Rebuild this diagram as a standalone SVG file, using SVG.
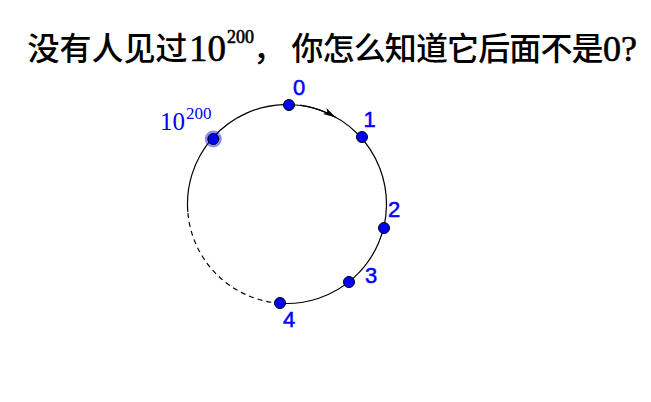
<svg xmlns="http://www.w3.org/2000/svg" width="651" height="402" viewBox="0 0 651 402">
<style>
.cjk{font-family:"Noto Sans CJK SC","Noto Sans CJK JP",sans-serif;font-size:32px;font-weight:500;fill:#000}
.ser{font-family:"Liberation Serif","Times New Roman",serif;fill:#000;stroke:#000;stroke-width:0.6}
.lbl{font-family:"Liberation Sans",Arial,sans-serif;font-size:22px;fill:#0000ff;stroke:#0000ff;stroke-width:0.5}
.sl{font-family:"Liberation Serif","Times New Roman",serif;fill:#0000ff}
.pt{fill:#0000ff;stroke:#000;stroke-width:1}
.arc{fill:none;stroke:#000;stroke-width:1.2}
</style>
<defs>
<marker id="ah" viewBox="0 0 14 8" refX="13" refY="4" markerWidth="14" markerHeight="8" markerUnits="userSpaceOnUse" orient="auto">
<path d="M0,0.5 L13,4 L0,7.5 L3,4 Z" fill="#000"/>
</marker>
</defs>
<rect width="651" height="402" fill="#fff"/>
<g id="title">
<text class="cjk" x="27.5" y="60">没有人见过</text>
<text class="ser" x="189" y="61" font-size="37">10</text>
<text class="ser" x="227" y="43" font-size="18">200</text>
<text class="cjk" x="253" y="60">，</text>
<text class="cjk" x="291.5" y="60" textLength="312" lengthAdjust="spacing">你怎么知道它后面不是</text>
<text class="ser" x="603" y="61" font-size="36">0?</text>
</g>
<g id="connectors">
<path class="arc" d="M187.8 212 A99.5 99.5 0 1 1 280.06 303.26"/>
<path class="arc" d="M280.06 303.26 A99.5 99.5 0 0 1 187.8 212" stroke-dasharray="5 4"/>
<path class="arc" d="M300 105.2 A99.5 99.5 0 0 1 336 117.6" marker-end="url(#ah)"/>
</g>
<g id="node-10e200">
<circle cx="213.3" cy="139" r="8.5" fill="#0000ff" fill-opacity="0.45"/>
<circle class="pt" cx="213.3" cy="139" r="5.5"/>
<text class="sl" x="160" y="130" font-size="25">10</text>
<text class="sl" x="186" y="119" font-size="17">200</text>
</g>
<g id="node-0">
<circle class="pt" cx="289" cy="105" r="5.5"/>
<text class="lbl" x="293" y="95">0</text>
</g>
<g id="node-1">
<circle class="pt" cx="362" cy="137" r="5.5"/>
<text class="lbl" x="363.5" y="127">1</text>
</g>
<g id="node-2">
<circle class="pt" cx="384" cy="228" r="5.5"/>
<text class="lbl" x="388" y="217">2</text>
</g>
<g id="node-3">
<circle class="pt" cx="349" cy="282" r="5.5"/>
<text class="lbl" x="365" y="283">3</text>
</g>
<g id="node-4">
<circle class="pt" cx="280" cy="303" r="5.5"/>
<text class="lbl" x="283" y="327">4</text>
</g>
</svg>
